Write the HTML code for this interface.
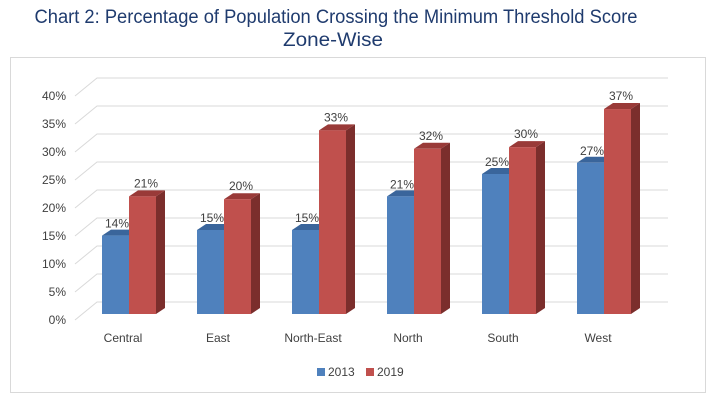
<!DOCTYPE html>
<html><head><meta charset="utf-8"><style>
html,body{margin:0;padding:0;background:#fff;width:721px;height:407px;overflow:hidden}
svg{display:block;font-family:"Liberation Sans",sans-serif}
</style></head><body>
<svg id="chart" width="721" height="407" viewBox="0 0 721 407">
<text x="336" y="23" text-anchor="middle" font-size="19" fill="#1f3b6e" textLength="603" lengthAdjust="spacingAndGlyphs">Chart 2: Percentage of Population Crossing the Minimum Threshold Score</text>
<text x="333" y="46" text-anchor="middle" font-size="19" fill="#1f3b6e" textLength="100" lengthAdjust="spacingAndGlyphs">Zone-Wise</text>
<rect x="10.5" y="57.5" width="695" height="335" fill="none" stroke="#d9d9d9"/>
<g id="grid"></g><g id="bars"></g><g id="labels"></g>
<g>
<rect x="317" y="368" width="8" height="8" fill="#4f81bd"/>
<text x="328" y="376" font-size="12" fill="#404040">2013</text>
<rect x="366" y="368" width="8" height="8" fill="#c0504d"/>
<text x="377" y="376" font-size="12" fill="#404040">2019</text>
</g>
</svg>
<script>
const categories=["Central","East","North-East","North","South","West"];
const values2013=[14,15,15,21,25,27];
const values2019=[21,20.5,32.8,29.5,29.8,36.6];
const labels2013=["14%","15%","15%","21%","25%","27%"];
const labels2019=["21%","20%","33%","32%","30%","37%"];
const ticks=[0,5,10,15,20,25,30,35,40];
const NS="http://www.w3.org/2000/svg";
function mk(tag,attrs,parent){const e=document.createElementNS(NS,tag);for(const k in attrs)e.setAttribute(k,attrs[k]);parent.appendChild(e);return e;}
const backY=v=>302-v*5.6;
const frontY=v=>320-v*5.6;
const barBase=314;
const barY=v=>barBase-v*5.6;
const catX=i=>129+95*i;
const grid=document.getElementById('grid'),bars=document.getElementById('bars'),labels=document.getElementById('labels');
ticks.forEach(t=>{
  const g=mk('polyline',{points:`75,${frontY(t)} 97,${backY(t)} 668,${backY(t)}`,fill:'none',stroke:'#d9d9d9','stroke-width':1},grid);
  
  
  const l=mk('text',{x:66,y:frontY(t)+4,'text-anchor':'end','font-size':12,fill:'#404040'},grid);
  l.textContent=t+'%';
  
  
});
function bar(x,v,front,top,side,name){
  const w=27,dx=9,dy=6,y=barY(v);
  const g=mk('g',{},bars);
  
  
  mk('polygon',{points:`${x+w},${y} ${x+w+dx},${y-dy} ${x+w+dx},${barBase-dy} ${x+w},${barBase}`,fill:side},g);
  mk('polygon',{points:`${x},${y} ${x+dx},${y-dy} ${x+w+dx},${y-dy} ${x+w},${y}`,fill:top},g);
  mk('rect',{x:x,y:y,width:w,height:barBase-y,fill:front},g);
}
categories.forEach((c,i)=>{
  const cx=catX(i);
  bar(cx-27,values2013[i],'#4f81bd','#3a659b','#2f5585','bar-2013-'+c.toLowerCase());
  bar(cx,values2019[i],'#c0504d','#993a38','#7b2e2c','bar-2019-'+c.toLowerCase());
  const a=mk('text',{x:cx-12,y:barY(values2013[i])-8,'text-anchor':'middle','font-size':12,fill:'#404040'},labels);
  a.textContent=labels2013[i];
  
  
  const b=mk('text',{x:cx+17,y:barY(values2019[i])-9,'text-anchor':'middle','font-size':12,fill:'#404040'},labels);
  b.textContent=labels2019[i];
  
  
  const t=mk('text',{x:cx-6,y:342,'text-anchor':'middle','font-size':12,fill:'#404040'},labels);
  t.textContent=c;
  
  
});
</script>
</body></html>
